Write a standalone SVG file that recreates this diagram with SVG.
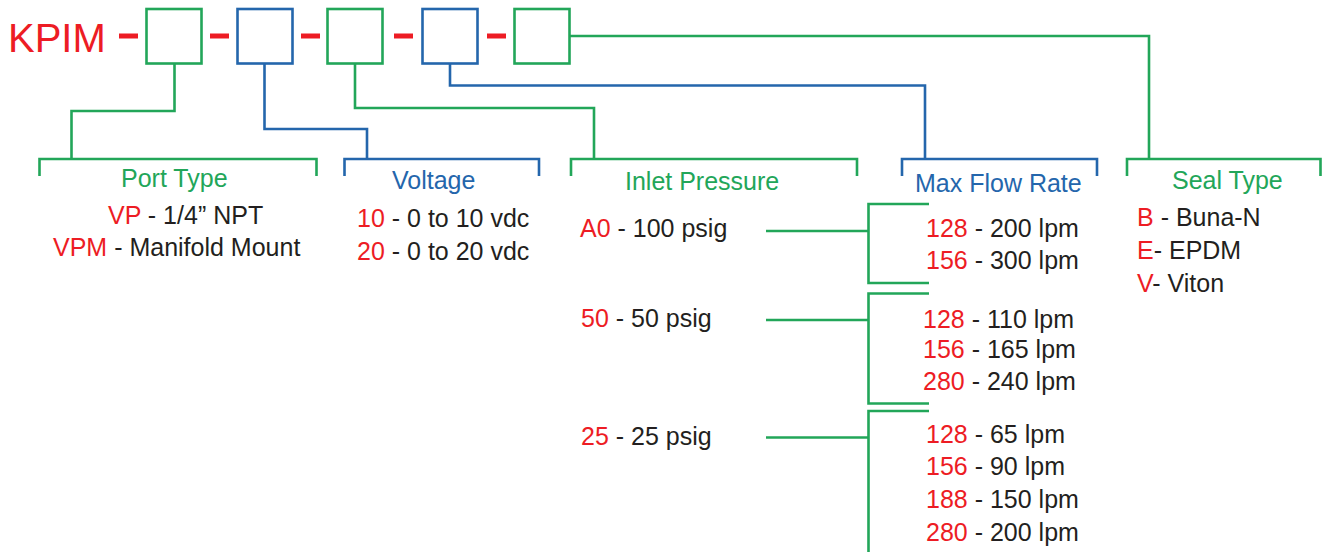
<svg xmlns="http://www.w3.org/2000/svg" width="1323" height="552" viewBox="0 0 1323 552">
<style>
text{font-family:"Liberation Sans",Arial,sans-serif;font-size:25px;fill:#231f20}
.r{fill:#ed1c24}
.hg{fill:#22a659}
.hb{fill:#2466ac}
.g{fill:none;stroke:#22a659;stroke-width:2.6}
.b{fill:none;stroke:#2466ac;stroke-width:2.6}
.d{fill:#ed1c24}
</style>
<rect width="1323" height="552" fill="#fff"/>
<g id="title">
<text x="8" y="52" style="font-size:40px" class="r">KPIM</text>
<rect class="d" x="119" y="33.5" width="19" height="5"/>
<rect class="d" x="210" y="33.5" width="19" height="5"/>
<rect class="d" x="301" y="33.5" width="19" height="5"/>
<rect class="d" x="394" y="33.5" width="19" height="5"/>
<rect class="d" x="487" y="33.5" width="19" height="5"/>
</g>
<g id="box1"><rect class="g" x="146.5" y="9" width="55" height="54.5"/></g>
<g id="box2"><rect class="b" x="237.5" y="9" width="55" height="54.5"/></g>
<g id="box3"><rect class="g" x="327.5" y="9" width="55" height="54.5"/></g>
<g id="box4"><rect class="b" x="422.5" y="9" width="55" height="54.5"/></g>
<g id="box5"><rect class="g" x="514.5" y="9" width="55" height="54.5"/></g>
<g id="connectors">
<polyline class="g" points="174.5,63.5 174.5,111 71.5,111 71.5,159"/>
<polyline class="b" points="264.5,63.5 264.5,129 367,129 367,159"/>
<polyline class="g" points="355,63.5 355,108 594,108 594,159"/>
<polyline class="b" points="450,63.5 450,85.5 925,85.5 925,159"/>
<polyline class="g" points="569.5,36 1149,36 1149,159"/>
<line class="g" x1="766" y1="231" x2="868.5" y2="231"/>
<polyline class="g" points="929,204 868.5,204 868.5,283 929,283"/>
<line class="g" x1="766" y1="320" x2="868.5" y2="320"/>
<polyline class="g" points="929,293.5 868.5,293.5 868.5,403.5 929,403.5"/>
<line class="g" x1="766" y1="437.5" x2="868.5" y2="437.5"/>
<polyline class="g" points="929,411 868.5,411 868.5,552"/>
</g>
<g id="port-type">
<polyline class="g" points="39.5,176 39.5,159 316.5,159 316.5,176"/>
<text x="121" y="187" class="hg">Port Type</text>
<text x="108" y="224"><tspan class="r">VP</tspan> - 1/4” NPT</text>
<text x="53" y="256"><tspan class="r">VPM</tspan> - Manifold Mount</text>
</g>
<g id="voltage">
<polyline class="b" points="344.5,176 344.5,159 539,159 539,176"/>
<text x="392" y="189" class="hb">Voltage</text>
<text x="357" y="227"><tspan class="r">10</tspan> - 0 to 10 vdc</text>
<text x="357" y="260"><tspan class="r">20</tspan> - 0 to 20 vdc</text>
</g>
<g id="inlet-pressure">
<polyline class="g" points="571,176 571,159 857,159 857,176"/>
<text x="625" y="190" class="hg">Inlet Pressure</text>
<text x="580" y="237"><tspan class="r">A0</tspan> - 100 psig</text>
<text x="581" y="327"><tspan class="r">50</tspan> - 50 psig</text>
<text x="581" y="445"><tspan class="r">25</tspan> - 25 psig</text>
</g>
<g id="max-flow-rate">
<polyline class="b" points="902,176 902,159 1097,159 1097,176"/>
<text x="915" y="192" class="hb">Max Flow Rate</text>
<text x="926" y="237"><tspan class="r">128</tspan> - 200 lpm</text>
<text x="926" y="269"><tspan class="r">156</tspan> - 300 lpm</text>
<text x="923" y="328"><tspan class="r">128</tspan> - 110 lpm</text>
<text x="923" y="358"><tspan class="r">156</tspan> - 165 lpm</text>
<text x="923" y="390"><tspan class="r">280</tspan> - 240 lpm</text>
<text x="926" y="443"><tspan class="r">128</tspan> - 65 lpm</text>
<text x="926" y="475"><tspan class="r">156</tspan> - 90 lpm</text>
<text x="926" y="508"><tspan class="r">188</tspan> - 150 lpm</text>
<text x="926" y="541"><tspan class="r">280</tspan> - 200 lpm</text>
</g>
<g id="seal-type">
<polyline class="g" points="1127,176 1127,159 1320.5,159 1320.5,176"/>
<text x="1172" y="189" class="hg">Seal Type</text>
<text x="1137" y="226"><tspan class="r">B</tspan> - Buna-N</text>
<text x="1137" y="259"><tspan class="r">E</tspan>- EPDM</text>
<text x="1137" y="292"><tspan class="r">V</tspan>- Viton</text>
</g>
</svg>
